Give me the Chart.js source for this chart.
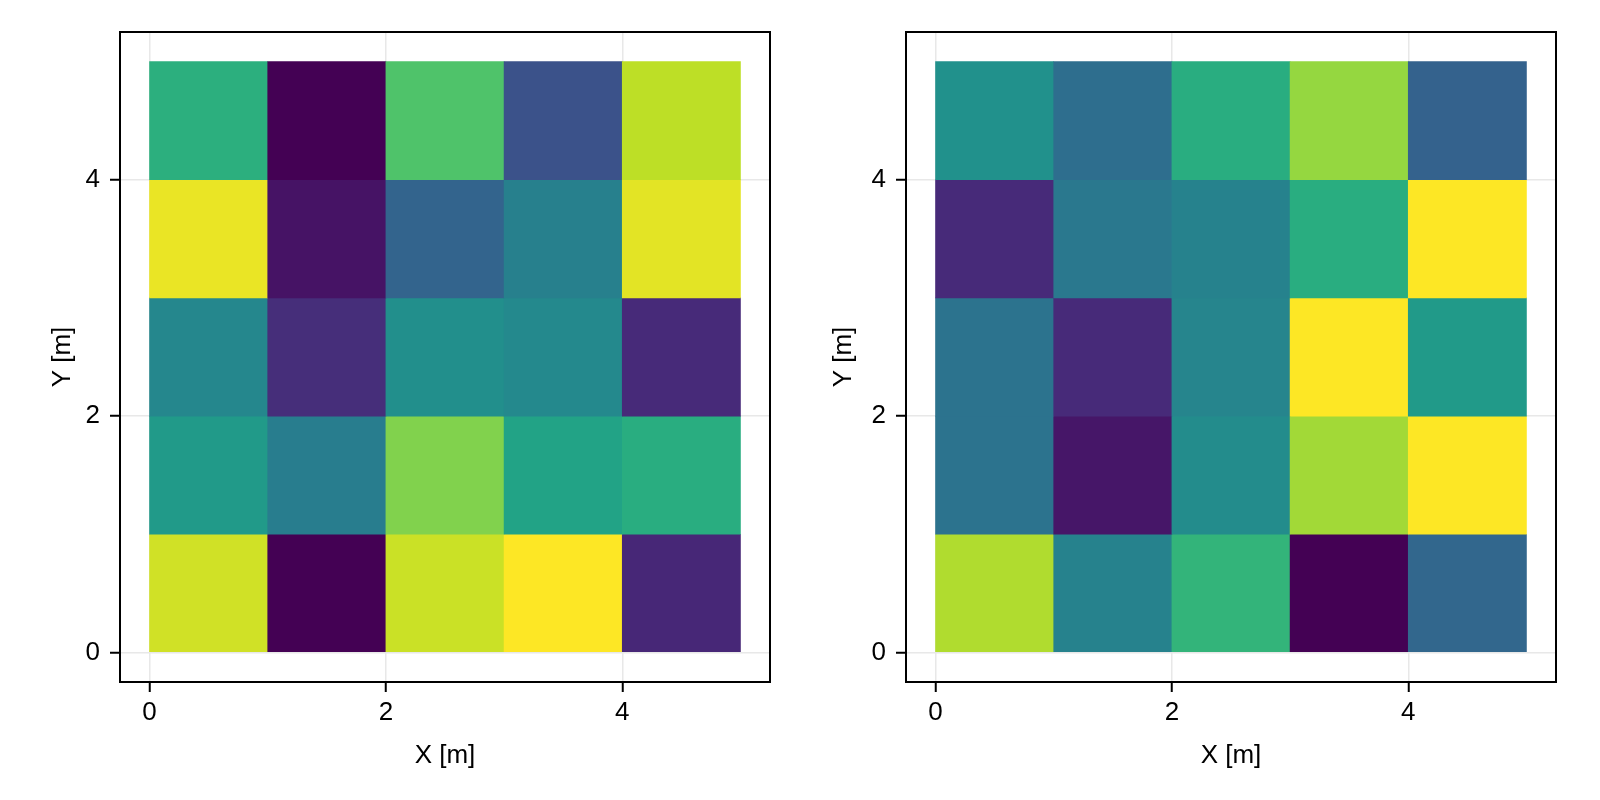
<!DOCTYPE html>
<html>
<head>
<meta charset="utf-8">
<script src="https://cdn.jsdelivr.net/npm/chart.js@4"></script>
<style>
  html, body { margin: 0; padding: 0; background: #fff; }
  #wrap { position: relative; width: 1600px; height: 800px; }
  .c { position: absolute; top: 0; width: 800px; height: 800px; }
</style>
</head>
<body>
<div id="wrap">
  <div class="c" style="left:0"><canvas id="c1" width="800" height="800"></canvas></div>
  <div class="c" style="left:800px"><canvas id="c2" width="800" height="800"></canvas></div>
</div>
<script>
// Grid cells: columns x = 0..4, rows y = 0..4 (row index 0 = bottom)
const xCells = [0, 1, 2, 3, 4];
const yCells = [0, 1, 2, 3, 4];
const tickValues = [0, 2, 4];
const xTitle = 'X [m]';
const yTitle = 'Y [m]';

// values in [0,1], rows listed bottom (y=0) to top (y=4)
const leftValues = [
  [0.93, 0.00, 0.92, 1.00, 0.11],
  [0.54, 0.42, 0.81, 0.58, 0.62],
  [0.46, 0.13, 0.49, 0.47, 0.12],
  [0.97, 0.05, 0.32, 0.43, 0.96],
  [0.63, 0.00, 0.72, 0.25, 0.90]
];
const rightValues = [
  [0.88, 0.44, 0.65, 0.00, 0.33],
  [0.38, 0.06, 0.48, 0.86, 1.00],
  [0.38, 0.12, 0.45, 1.00, 0.54],
  [0.12, 0.40, 0.44, 0.62, 1.00],
  [0.50, 0.36, 0.62, 0.84, 0.31]
];

const viridisStops = ['#440154','#482475','#414487','#355f8d','#2a788e','#21918c','#22a884','#44bf70','#7ad151','#bddf26','#fde725'];
function hexToRgb(h){ return [parseInt(h.slice(1,3),16),parseInt(h.slice(3,5),16),parseInt(h.slice(5,7),16)]; }
function viridis(t){
  t = Math.max(0, Math.min(1, t));
  const f = t * (viridisStops.length - 1);
  const i = Math.min(Math.floor(f), viridisStops.length - 2);
  const u = f - i;
  const a = hexToRgb(viridisStops[i]), b = hexToRgb(viridisStops[i+1]);
  const c = a.map((v, k) => Math.round(v + (b[k] - v) * u));
  return `rgb(${c[0]},${c[1]},${c[2]})`;
}

function buildData(values){
  const pts = [], colors = [];
  yCells.forEach((r) => {
    xCells.forEach((c) => {
      pts.push({ x: c + 0.5, y: [r, r + 1] });
      colors.push(viridis(values[r][c]));
    });
  });
  return { pts, colors };
}

const frame = {
  id: 'frame',
  afterDraw(chart){
    const a = chart.chartArea, ctx = chart.ctx;
    ctx.save();
    ctx.strokeStyle = '#000';
    ctx.lineWidth = 2;
    ctx.strokeRect(a.left, a.top, a.right - a.left, a.bottom - a.top);
    ctx.restore();
  }
};

const FONT = "Liberation Sans";
Chart.defaults.font.family = FONT;
Chart.defaults.font.size = 26;
Chart.defaults.color = '#000';

function makeChart(id, values, yAxisWidth, padRight, yTitlePad){
  const d = buildData(values);
  return new Chart(document.getElementById(id), {
    type: 'bar',
    data: {
      datasets: [{
        data: d.pts,
        backgroundColor: d.colors,
        borderWidth: 0,
        barPercentage: 1.0,
        categoryPercentage: 1.0
      }]
    },
    options: {
      responsive: false,
      animation: false,
      maintainAspectRatio: false,
      layout: { padding: { left: 0, right: padRight, top: 32, bottom: 0 } },
      plugins: { legend: { display: false }, tooltip: { enabled: false } },
      scales: {
        x: {
          type: 'linear',
          offset: false,
          min: -0.25, max: 5.25,
          afterFit: (s) => { s.height = 118; },
          afterBuildTicks: (s) => { s.ticks = tickValues.map(v => ({ value: v })); },
          ticks: { color: '#000', font: { family: FONT, size: 26 }, padding: 5, maxRotation: 0 },
          grid: { color: '#e8e8e8', lineWidth: 1.5, tickColor: '#000', tickLength: 10, tickWidth: 2, offset: false },
          border: { display: false },
          title: { display: true, text: xTitle, color: '#000', font: { family: FONT, size: 26 }, padding: { top: 4, bottom: 29 } }
        },
        y: {
          type: 'linear',
          min: -0.25, max: 5.25,
          afterFit: (s) => { s.width = yAxisWidth; },
          afterBuildTicks: (s) => { s.ticks = tickValues.map(v => ({ value: v })); },
          ticks: { color: '#000', font: { family: FONT, size: 26 }, padding: 10 },
          grid: { color: '#e8e8e8', lineWidth: 1.5, tickColor: '#000', tickLength: 10, tickWidth: 2 },
          border: { display: false },
          title: { display: true, text: yTitle, color: '#000', font: { family: FONT, size: 26 }, padding: { top: yTitlePad, bottom: 0 } }
        }
      }
    },
    plugins: [frame]
  });
}

makeChart('c1', leftValues, 120, 30, 47);
makeChart('c2', rightValues, 106, 44, 28);
</script>
</body>
</html>
